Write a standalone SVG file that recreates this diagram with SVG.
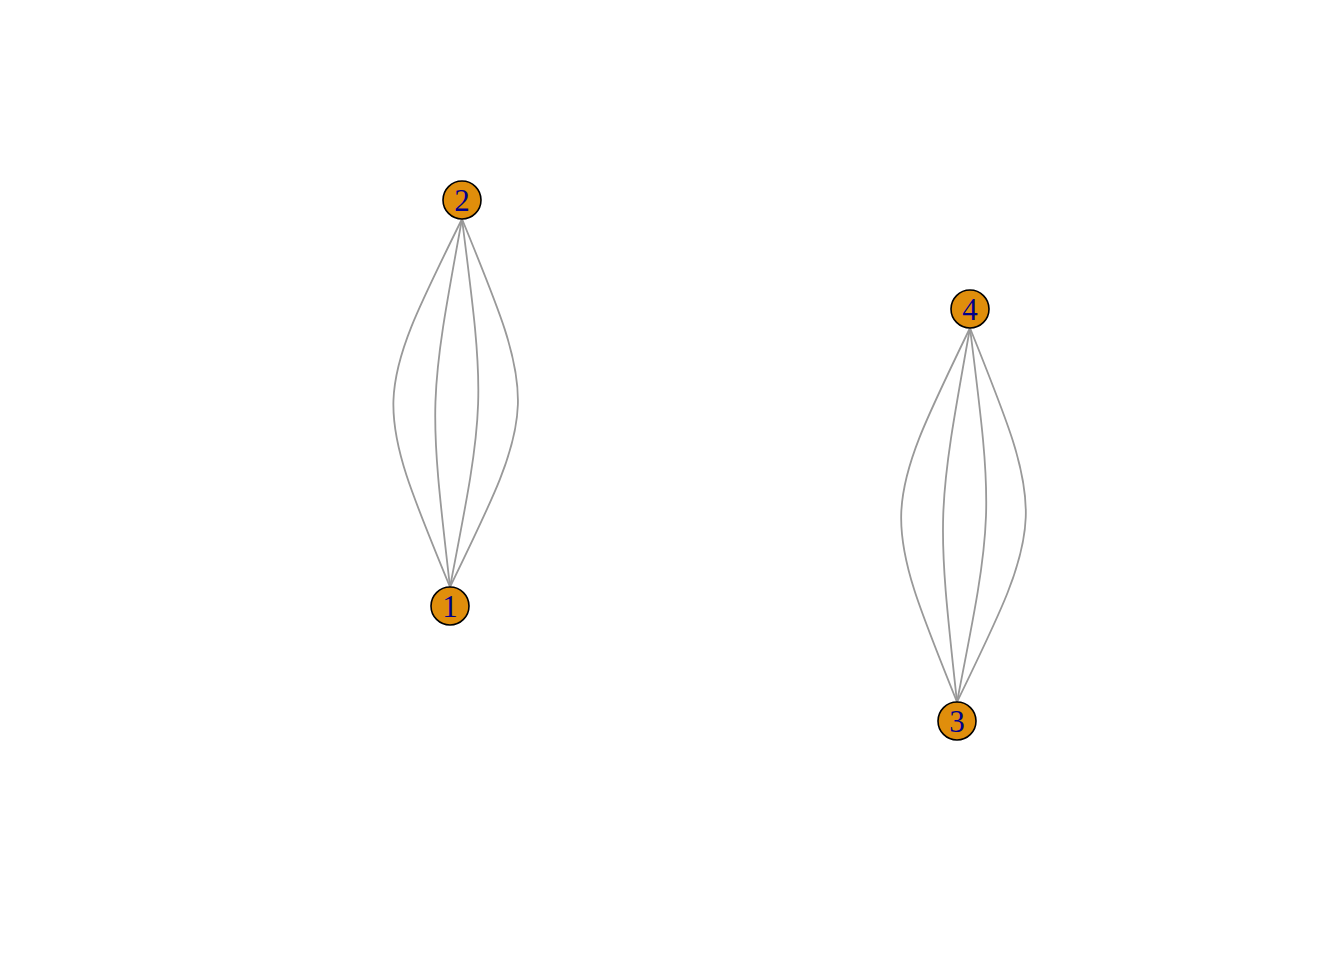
<svg xmlns="http://www.w3.org/2000/svg" width="1344" height="960" viewBox="0 0 1344 960">
<style>
.edge{fill:none;stroke:#999999;stroke-width:1.8}
.node circle{fill:#E08E0B;stroke:#000;stroke-width:1.6}
.node text{font-family:"Liberation Serif","Times New Roman",serif;font-size:31px;fill:#00008B;text-anchor:middle;dominant-baseline:central}
</style>
<rect width="1344" height="960" fill="#fff"/>
<g id="edges">
<path class="edge" d="M462,219 C372.6,399.6 372.6,399.6 450,587"/>
<path class="edge" d="M462,219 C428.6,401.5 428.6,401.5 450,587"/>
<path class="edge" d="M462,219 C485.5,403.6 485.5,403.6 450,587"/>
<path class="edge" d="M462,219 C538.5,405.4 538.5,405.4 450,587"/>
<path class="edge" d="M970,328 C880.5,512.5 880.5,512.5 957,702"/>
<path class="edge" d="M970,328 C936.5,514.3 936.5,514.3 957,702"/>
<path class="edge" d="M970,328 C993.5,516.3 993.5,516.3 957,702"/>
<path class="edge" d="M970,328 C1046.5,518.1 1046.5,518.1 957,702"/>
</g>
<g id="node1" class="node"><circle cx="450" cy="606" r="19"/><text x="450" y="606">1</text></g>
<g id="node2" class="node"><circle cx="462" cy="200" r="19"/><text x="462" y="200">2</text></g>
<g id="node3" class="node"><circle cx="957" cy="721" r="19"/><text x="957" y="721">3</text></g>
<g id="node4" class="node"><circle cx="970" cy="309" r="19"/><text x="970" y="309">4</text></g>
</svg>
